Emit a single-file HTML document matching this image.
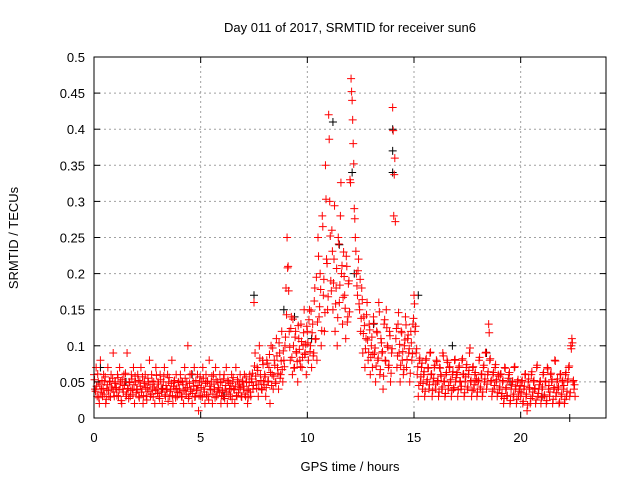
<!DOCTYPE html>
<html><head><meta charset="utf-8"><style>
body{margin:0;background:#fff}
svg{display:block;font-family:"Liberation Sans",sans-serif;font-size:13px}
</style></head><body>
<svg id="chart" width="640" height="480" viewBox="0 0 640 480">
<rect width="640" height="480" fill="#fff"/>
<text x="350" y="32" text-anchor="middle">Day 011 of 2017, SRMTID for receiver sun6</text>
<text x="350" y="471" text-anchor="middle">GPS time / hours</text>
<text transform="translate(18,238) rotate(-90)" text-anchor="middle">SRMTID / TECUs</text>
<g id="grid"></g>
<g id="black"></g>
<g id="red"></g>
<g id="axes"></g>
</svg>
<script>
const xTicks=[0,5,10,15,20];
const yTicks=[0,0.05,0.1,0.15,0.2,0.25,0.3,0.35,0.4,0.45,0.5];
const yTickLabels=["0","0.05","0.1","0.15","0.2","0.25","0.3","0.35","0.4","0.45","0.5"];
const startHour=0;
const sampleStep=0.05;
const redV=[
.06,.04,.07,.03,.05,.02,.08,.04,.03,.06,.05,.02,.04,.07,.03,.05,.06,.04,.09,.03,
.05,.04,.06,.03,.07,.05,.02,.04,.06,.05,.03,.09,.04,.05,.03,.06,.04,.07,.02,.05,
.04,.06,.03,.05,.07,.04,.02,.05,.06,.03,.04,.05,.08,.03,.06,.04,.05,.02,.07,.04,
.05,.03,.06,.04,.02,.05,.07,.03,.04,.06,.05,.03,.04,.08,.02,.05,.04,.06,.03,.05,
.04,.06,.03,.05,.02,.07,.04,.05,.10,.03,.06,.04,.02,.05,.07,.03,.04,.06,.01,.05,
.03,.05,.07,.04,.02,.06,.05,.03,.08,.04,.05,.02,.06,.04,.07,.03,.05,.04,.06,.02,
.05,.03,.06,.04,.07,.02,.05,.04,.03,.06,.05,.04,.02,.07,.03,.05,.04,.06,.03,.05,
.04,.06,.03,.05,.02,.04,.06,.03,.05,.04,.16,.09,.05,.07,.03,.10,.06,.04,.08,.05,
.06,.03,.08,.05,.07,.02,.10,.06,.04,.08,.05,.11,.07,.04,.09,.06,.12,.05,.08,.10,
.18,.25,.21,.12,.08,.14,.06,.10,.07,.12,.09,.05,.11,.08,.13,.07,.10,.15,.09,.06,
.12,.08,.15,.10,.07,.13,.09,.18,.11,.08,.25,.14,.20,.10,.28,.17,.12,.35,.22,.15,
.42,.30,.19,.26,.15,.22,.12,.18,.10,.25,.16,.28,.20,.13,.23,.17,.11,.21,.14,.19,
.33,.47,.44,.38,.29,.25,.20,.17,.22,.15,.12,.18,.09,.14,.07,.11,.16,.08,.13,.06,
.10,.07,.14,.09,.05,.12,.08,.16,.06,.11,.09,.04,.13,.08,.15,.10,.07,.12,.05,.09,
.43,.28,.36,.11,.07,.13,.09,.05,.12,.08,.06,.10,.14,.07,.11,.09,.05,.12,.08,.13,
.17,.12,.09,.06,.03,.08,.05,.07,.04,.06,.03,.08,.05,.07,.04,.09,.06,.03,.05,.07,
.04,.08,.05,.03,.07,.06,.04,.09,.05,.03,.06,.08,.04,.07,.05,.03,.06,.04,.08,.05,
.06,.03,.07,.05,.04,.08,.06,.03,.05,.07,.04,.06,.09,.05,.03,.07,.04,.06,.05,.03,
.05,.08,.04,.06,.03,.07,.05,.09,.04,.06,.13,.08,.05,.03,.06,.04,.07,.05,.03,.06,
.04,.06,.03,.05,.02,.07,.04,.03,.05,.06,.02,.04,.05,.03,.07,.04,.02,.05,.03,.04,
.03,.05,.02,.04,.06,.03,.01,.05,.04,.02,.06,.03,.05,.04,.02,.07,.03,.04,.05,.02,
.04,.06,.03,.05,.02,.07,.04,.03,.06,.05,.02,.04,.08,.03,.05,.04,.02,.06,.03,.05,
.04,.02,.06,.03,.05,.07,.03,.10,.11,.05,.04,.03];
// second red sample set, in thousandths of a TECU, offset half a step
const redMilli=[
53,37,44,61,28,47,35,52,41,33,57,26,46,38,51,29,43,55,36,48,
42,31,56,39,47,24,53,36,45,62,33,41,27,49,38,54,32,46,58,35,
39,52,28,44,36,57,31,48,42,25,55,37,46,33,51,29,43,38,59,34,
47,27,53,36,41,58,32,45,39,23,56,37,48,31,44,52,28,41,35,49,
36,51,29,46,38,55,33,42,27,48,37,61,34,44,29,52,38,45,31,57,
42,29,55,36,48,32,51,25,44,39,58,33,47,28,53,37,42,35,49,31,
38,54,27,45,36,52,33,48,41,26,56,39,44,31,53,35,47,42,29,51,
44,33,57,38,28,49,36,54,62,45,72,58,41,66,47,83,52,39,74,46,
57,42,76,51,88,63,45,97,58,73,48,86,62,104,55,79,67,93,71,112,
143,208,176,98,124,84,137,69,112,92,78,128,95,71,106,84,118,88,102,127,
104,136,92,148,118,86,162,109,195,133,224,154,178,121,265,192,146,303,214,168,
386,252,176,231,187,294,158,207,139,241,184,326,211,167,196,152,224,133,186,147,
326,452,413,352,276,231,183,204,158,192,138,164,117,128,96,143,108,91,122,84,
112,88,131,97,72,118,83,147,67,104,92,58,136,79,125,98,73,114,62,96,
398,337,272,124,86,146,102,73,118,92,67,108,129,81,115,96,62,104,89,138,
158,127,96,71,45,83,57,76,48,64,37,82,53,69,46,91,61,38,55,73,
47,78,52,36,69,58,43,86,51,34,63,77,45,71,53,38,64,42,81,56,
63,39,72,51,44,82,61,35,57,74,43,66,97,52,38,71,46,63,54,36,
52,84,43,61,36,73,54,91,47,64,118,82,52,37,63,45,74,53,35,58,
43,61,34,52,27,69,42,31,55,63,24,46,51,33,71,44,26,53,37,45,
35,52,23,44,61,33,18,54,42,27,64,36,52,41,25,73,34,46,51,28,
43,63,32,51,24,68,45,36,62,53,26,42,79,35,54,43,22,61,33,52,
45,26,63,37,54,72,35,96,104,52,46];
const blackT=[0.3,1.5,3.2,4.6,6.1,7.5,8.9,9.4,10.2,11.2,11.5,12.1,12.2,13.1,14.0,14.0,14.0,15.2,16.8,18.4,19.5,21.0,22.3];
const blackV=[0.07,0.05,0.04,0.06,0.03,0.17,0.15,0.14,0.11,0.41,0.24,0.34,0.20,0.13,0.40,0.37,0.34,0.17,0.10,0.09,0.05,0.03,0.00];

const NS="http://www.w3.org/2000/svg";
const X0=94,X1=606,Y0=418,Y1=57;
const xs=h=>X0+(h/24)*(X1-X0);
const ys=v=>Y0-(v/0.5)*(Y0-Y1);
function mk(tag,attrs,parent){const e=document.createElementNS(NS,tag);for(const k in attrs)e.setAttribute(k,attrs[k]);parent.appendChild(e);return e;}
const grid=document.getElementById('grid'),axes=document.getElementById('axes');
xTicks.forEach(t=>{
  const x=xs(t);
  if(t>0){const g=mk('line',{x1:x,x2:x,y1:Y0,y2:Y1,stroke:'#a0a0a0','stroke-dasharray':'2,3'},grid);
  
  }
  mk('line',{x1:x,x2:x,y1:Y0,y2:Y0-6,stroke:'#000'},axes);
  mk('line',{x1:x,x2:x,y1:Y1,y2:Y1+6,stroke:'#000'},axes);
  const l=mk('text',{x:x,y:Y0+24,'text-anchor':'middle'},axes);l.textContent=t;
  
  
});
yTicks.forEach((t,i)=>{
  const y=ys(t);
  if(t>0&&t<0.5){const g=mk('line',{x1:X0,x2:X1,y1:y,y2:y,stroke:'#a0a0a0','stroke-dasharray':'2,3'},grid);
  
  }
  mk('line',{x1:X0,x2:X0+6,y1:y,y2:y,stroke:'#000'},axes);
  mk('line',{x1:X1,x2:X1-6,y1:y,y2:y,stroke:'#000'},axes);
  const l=mk('text',{x:X0-9,y:y+5,'text-anchor':'end'},axes);l.textContent=yTickLabels[i];
  
  
});
mk('rect',{x:X0,y:Y1,width:X1-X0,height:Y0-Y1,fill:'none',stroke:'#000'},axes);
function plus(g,h,v,col){
  const x=xs(h),y=ys(v);
  return mk('path',{d:`M${x-4},${y}h8M${x},${y-4}v8`,stroke:col,'stroke-width':1,fill:'none'},g);
}
const bg=document.getElementById('black');
blackT.forEach((t,i)=>{const p=plus(bg,t,blackV[i],'#000');
  
  });
const rg=document.getElementById('red');
redV.forEach((v,i)=>{const p=plus(rg,startHour+i*sampleStep,v,'#f00');
  
  });
redMilli.forEach((m,i)=>{const p=plus(rg,startHour+(i+0.5)*sampleStep,m/1000,'#f00');
  
  });
</script>
</body></html>
